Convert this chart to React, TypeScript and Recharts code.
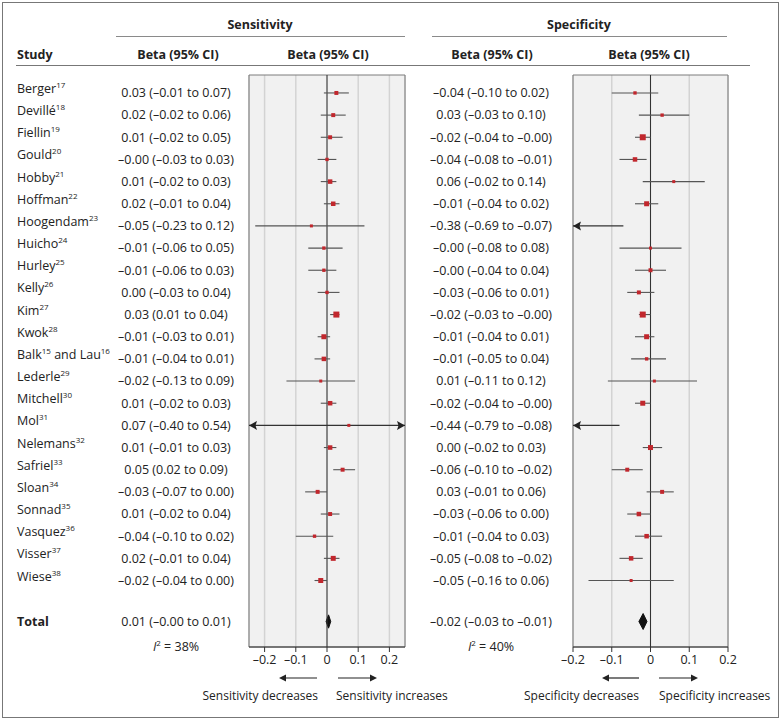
import React from "react";
import {
  ComposedChart,
  XAxis,
  YAxis,
  CartesianGrid,
  ReferenceLine,
  ReferenceArea,
  Scatter,
  Area,
} from "recharts";

const FONT = "'Open Sans', 'Noto Sans', sans-serif";
const FS = 12.5;
const INK = "#222";

// study name, ^n marks the reference superscript
const studies = [
  "Berger^17", "Devillé^18", "Fiellin^19", "Gould^20", "Hobby^21", "Hoffman^22",
  "Hoogendam^23", "Huicho^24", "Hurley^25", "Kelly^26", "Kim^27", "Kwok^28",
  "Balk^15 and Lau^16", "Lederle^29", "Mitchell^30", "Mol^31", "Nelemans^32",
  "Safriel^33", "Sloan^34", "Sonnad^35", "Vasquez^36", "Visser^37", "Wiese^38",
];

const sensEst = [0.03, 0.02, 0.01, -0.0, 0.01, 0.02, -0.05, -0.01, -0.01, 0.0, 0.03, -0.01, -0.01, -0.02, 0.01, 0.07, 0.01, 0.05, -0.03, 0.01, -0.04, 0.02, -0.02];
const sensLo = [-0.01, -0.02, -0.02, -0.03, -0.02, -0.01, -0.23, -0.06, -0.06, -0.03, 0.01, -0.03, -0.04, -0.13, -0.02, -0.4, -0.01, 0.02, -0.07, -0.02, -0.1, -0.01, -0.04];
const sensHi = [0.07, 0.06, 0.05, 0.03, 0.03, 0.04, 0.12, 0.05, 0.03, 0.04, 0.04, 0.01, 0.01, 0.09, 0.03, 0.54, 0.03, 0.09, 0.0, 0.04, 0.02, 0.04, 0.0];
const sensWeight = [7, 7, 7, 5, 9, 9, 4, 5, 5, 5, 16, 11, 9, 4, 9, 4, 9, 7, 7, 7, 5, 11, 11];
const sensTotal = [0.005, -0.003, 0.012]; // estimate, lower, upper
const sensI2 = "38%";

const specEst = [-0.04, 0.03, -0.02, -0.04, 0.06, -0.01, -0.38, -0.0, -0.0, -0.03, -0.02, -0.01, -0.01, 0.01, -0.02, -0.44, 0.0, -0.06, 0.03, -0.03, -0.01, -0.05, -0.05];
const specLo = [-0.1, -0.03, -0.04, -0.08, -0.02, -0.04, -0.69, -0.08, -0.04, -0.06, -0.03, -0.04, -0.05, -0.11, -0.04, -0.79, -0.02, -0.1, -0.01, -0.06, -0.04, -0.08, -0.16];
const specHi = [0.02, 0.1, -0.0, -0.01, 0.14, 0.02, -0.07, 0.08, 0.04, 0.01, -0.0, 0.01, 0.04, 0.12, -0.0, -0.08, 0.03, -0.02, 0.06, 0.0, 0.03, -0.02, 0.06];
const specWeight = [5, 5, 16, 9, 4, 11, 1, 4, 7, 7, 16, 11, 5, 4, 11, 1, 11, 7, 7, 9, 9, 9, 4];
const specTotal = [-0.019, -0.03, -0.009];
const specI2 = "40%";

const sensTicks = [-0.2, -0.1, 0, 0.1, 0.2];
const specTicks = [-0.2, -0.1, 0, 0.1, 0.2];
const SENS_DOMAIN: [number, number] = [-0.25, 0.25];
const SPEC_DOMAIN: [number, number] = [-0.2, 0.2];

const ROW_TOTAL = 23.85;
const ROW_I2 = 25;
const Y_DOMAIN: [number, number] = [-0.81, 25];
const yTicks = [...studies.map((_, i) => i), ROW_TOTAL, ROW_I2];

const fmt = (v: number) => {
  const neg = v < 0 || Object.is(v, -0);
  return (neg ? "–" : "") + Math.abs(v).toFixed(2);
};
const ciText = (e: number, l: number, h: number) => `${fmt(e)} (${fmt(l)} to ${fmt(h)})`;
const axisFmt = (v: number) => (v === 0 ? "0" : (v < 0 ? "–" : "") + Math.abs(v).toFixed(1));

function StudyName({ x, y, label }: { x: number; y: number; label: string }) {
  const parts = label.split(/\^(\d+)/);
  let shift = 0;
  const spans: React.ReactNode[] = [];
  parts.forEach((p, k) => {
    if (!p) return;
    if (k % 2 === 1) {
      spans.push(<tspan key={k} dy={-5} fontSize={8}>{p}</tspan>);
      shift = 5;
    } else {
      spans.push(<tspan key={k} dy={shift}>{p}</tspan>);
      shift = 0;
    }
  });
  return (
    <text x={x} y={y} dy="0.35em" fontSize={FS} fill={INK} fontFamily={FONT} style={{ whiteSpace: "pre" }}>
      {spans}
    </text>
  );
}

function I2Text({ x, y, value }: { x: number; y: number; value: string }) {
  return (
    <text x={x} y={y} dy="0.35em" textAnchor="middle" fontSize={FS} fill={INK} fontFamily={FONT} style={{ whiteSpace: "pre" }}>
      <tspan fontStyle="italic">I</tspan>
      <tspan dy={-5} fontSize={8}>2</tspan>
      <tspan dy={5}>{" = " + value}</tspan>
    </text>
  );
}

const sameRow = (a: number, b: number) => Math.abs(a - b) < 1e-6;

function SensTick(props: any) {
  const { x, y, payload } = props;
  const v = payload.value;
  const valueX = x - 73;
  if (sameRow(v, ROW_I2)) return <I2Text x={valueX} y={y} value={sensI2} />;
  if (sameRow(v, ROW_TOTAL)) {
    return (
      <g>
        <text x={x - 232} y={y} dy="0.35em" fontSize={FS} fontWeight={700} fill={INK} fontFamily={FONT}>Total</text>
        <text x={valueX} y={y} dy="0.35em" textAnchor="middle" fontSize={FS} fill={INK} fontFamily={FONT}>
          {ciText(sensTotal[0], sensTotal[1], sensTotal[2])}
        </text>
      </g>
    );
  }
  const i = Math.round(v);
  return (
    <g>
      <StudyName x={x - 232} y={y} label={studies[i]} />
      <text x={valueX} y={y} dy="0.35em" textAnchor="middle" fontSize={FS} fill={INK} fontFamily={FONT}>
        {ciText(sensEst[i], sensLo[i], sensHi[i])}
      </text>
    </g>
  );
}

function SpecTick(props: any) {
  const { x, y, payload } = props;
  const v = payload.value;
  const valueX = x - 82;
  if (sameRow(v, ROW_I2)) return <I2Text x={valueX} y={y} value={specI2} />;
  const txt = sameRow(v, ROW_TOTAL)
    ? ciText(specTotal[0], specTotal[1], specTotal[2])
    : ciText(specEst[Math.round(v)], specLo[Math.round(v)], specHi[Math.round(v)]);
  return (
    <text x={valueX} y={y} dy="0.35em" textAnchor="middle" fontSize={FS} fill={INK} fontFamily={FONT}>
      {txt}
    </text>
  );
}

const square = (p: any) => {
  const s = 1.5 * Math.sqrt(p.payload.w);
  return <rect x={p.cx - s / 2} y={p.cy - s / 2} width={s} height={s} fill="#c1272d" />;
};

const ciShape = (arrowL: boolean, arrowR: boolean) => (p: any) => {
  const { x1, y1, x2, y2 } = p;
  if (x1 == null || y1 == null) return <g />;
  const xa = Math.min(x1, x2);
  const xb = Math.max(x1, x2);
  const y = (y1 + y2) / 2;
  return (
    <g>
      <line x1={xa} x2={xb} y1={y} y2={y} stroke={arrowL || arrowR ? "#333" : "#555"} strokeWidth={1.1} />
      {arrowL && <path d={`M${xa},${y} l8,-4.5 l-1.5,4.5 l1.5,4.5 z`} fill="#222" />}
      {arrowR && <path d={`M${xb},${y} l-8,-4.5 l1.5,4.5 l-1.5,4.5 z`} fill="#222" />}
    </g>
  );
};

interface PanelProps {
  est: number[];
  lo: number[];
  hi: number[];
  weight: number[];
  total: number[];
  domain: [number, number];
  ticks: number[];
  yAxisWidth: number;
  width: number;
  rightMargin: number;
  tick: (p: any) => React.ReactElement;
  diamondHalf: number;
}

function Panel(props: PanelProps) {
  const { est, lo, hi, weight, total, domain, ticks, yAxisWidth, width, rightMargin, tick, diamondHalf } = props;
  const [dMin, dMax] = domain;
  const points = est
    .map((v, i) => ({ x: v, y: i, w: weight[i] }))
    .filter((p) => p.x >= dMin && p.x <= dMax);
  const diamond = [
    { x: total[1], y: [ROW_TOTAL, ROW_TOTAL] },
    { x: total[0], y: [ROW_TOTAL - diamondHalf, ROW_TOTAL + diamondHalf] },
    { x: total[2], y: [ROW_TOTAL, ROW_TOTAL] },
  ];
  return (
    <ComposedChart width={width} height={680} margin={{ top: 75, right: rightMargin, bottom: 0, left: 0 }}>
      <CartesianGrid horizontal={false} fill="#f1f1f1" stroke="#d3d3d3" strokeWidth={1.5} />
      <ReferenceArea x1={dMin} x2={dMax} y1={Y_DOMAIN[0]} y2={Y_DOMAIN[1]} fill="none" fillOpacity={0} stroke="#7d7d7d" ifOverflow="visible" />
      <ReferenceLine x={0} stroke="#333" ifOverflow="visible" />
      {lo.map((l, i) => {
        const a = Math.max(l, dMin);
        const b = Math.min(hi[i], dMax);
        return (
          <ReferenceLine
            key={i}
            segment={[{ x: a, y: i }, { x: b, y: i }]}
            ifOverflow="visible"
            stroke="#555"
            shape={ciShape(l < dMin, hi[i] > dMax)}
          />
        );
      })}
      <Scatter data={points} shape={square} isAnimationActive={false} />
      <Area
        data={diamond}
        dataKey="y"
        type="linear"
        stroke="#111"
        fill="#111"
        fillOpacity={1}
        dot={false}
        activeDot={false}
        isAnimationActive={false}
      />
      <XAxis
        type="number"
        dataKey="x"
        domain={domain}
        ticks={ticks}
        allowDataOverflow
        interval={0}
        tickFormatter={axisFmt}
        height={33}
        tickSize={5}
        tickMargin={3}
        axisLine={{ stroke: "#333" }}
        tickLine={{ stroke: "#333" }}
        tick={{ fontSize: FS, fill: INK, fontFamily: FONT }}
      />
      <YAxis
        type="number"
        dataKey="y"
        domain={Y_DOMAIN}
        reversed
        allowDataOverflow
        ticks={yTicks}
        interval={0}
        width={yAxisWidth}
        axisLine={false}
        tickLine={false}
        tickSize={0}
        tickMargin={0}
        tick={tick}
      />
    </ComposedChart>
  );
}

function Arrow({ from, to, y }: { from: number; to: number; y: number }) {
  const dir = to > from ? 1 : -1;
  return (
    <g>
      <line x1={from} x2={to - dir * 5} y1={y} y2={y} stroke="#222" strokeWidth={1.2} />
      <path d={`M${to},${y} l${-dir * 7},-3.5 l0,7 z`} fill="#222" />
    </g>
  );
}

function Frame() {
  const t = { fontSize: 12, fill: INK, fontFamily: FONT };
  const b = { fontSize: FS, fill: INK, fontFamily: FONT, fontWeight: 700 };
  return (
    <svg width={782} height={722} style={{ position: "absolute", left: 0, top: 0 }}>
      <rect x={2.5} y={2.5} width={776} height={715} fill="#fff" stroke="#777" />
      <text x={260} y={25} dy="0.35em" textAnchor="middle" {...b}>Sensitivity</text>
      <line x1={116} x2={405} y1={36.5} y2={36.5} stroke="#8a8a8a" />
      <text x={579} y={25} dy="0.35em" textAnchor="middle" {...b}>Specificity</text>
      <line x1={432} x2={727} y1={36.5} y2={36.5} stroke="#8a8a8a" />
      <text x={17} y={55} dy="0.35em" {...b}>Study</text>
      <text x={178} y={55} dy="0.35em" textAnchor="middle" {...b}>Beta (95% CI)</text>
      <text x={328} y={55} dy="0.35em" textAnchor="middle" {...b}>Beta (95% CI)</text>
      <text x={492} y={55} dy="0.35em" textAnchor="middle" {...b}>Beta (95% CI)</text>
      <text x={649} y={55} dy="0.35em" textAnchor="middle" {...b}>Beta (95% CI)</text>
      <line x1={16} x2={750} y1={65.5} y2={65.5} stroke="#777" />
      <Arrow from={317} to={279} y={678} />
      <Arrow from={338} to={377} y={678} />
      <Arrow from={639} to={602} y={678} />
      <Arrow from={659} to={698} y={678} />
      <text x={318} y={696} dy="0.35em" textAnchor="end" {...t}>Sensitivity decreases</text>
      <text x={336} y={696} dy="0.35em" {...t}>Sensitivity increases</text>
      <text x={639} y={696} dy="0.35em" textAnchor="end" {...t}>Specificity decreases</text>
      <text x={659} y={696} dy="0.35em" {...t}>Specificity increases</text>
    </svg>
  );
}

export default function App() {
  return (
    <div style={{ position: "absolute", left: 0, top: 0, width: 782, height: 722, background: "#fff" }}>
      <Frame />
      <div style={{ position: "absolute", left: 0, top: 0 }}>
        <Panel
          est={sensEst}
          lo={sensLo}
          hi={sensHi}
          weight={sensWeight}
          total={sensTotal}
          domain={SENS_DOMAIN}
          ticks={sensTicks}
          yAxisWidth={249}
          width={410}
          rightMargin={5}
          tick={(p) => <SensTick {...p} />}
          diamondHalf={0.3}
        />
      </div>
      <div style={{ position: "absolute", left: 412, top: 0 }}>
        <Panel
          est={specEst}
          lo={specLo}
          hi={specHi}
          weight={specWeight}
          total={specTotal}
          domain={SPEC_DOMAIN}
          ticks={specTicks}
          yAxisWidth={161}
          width={330}
          rightMargin={14}
          tick={(p) => <SpecTick {...p} />}
          diamondHalf={0.36}
        />
      </div>
    </div>
  );
}
